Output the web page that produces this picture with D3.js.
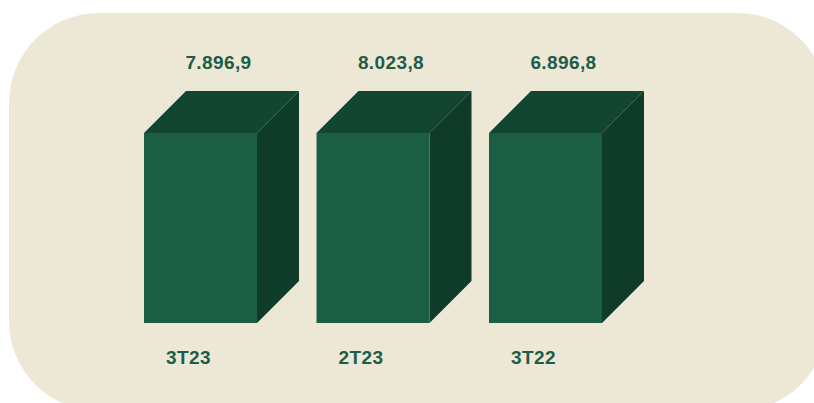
<!DOCTYPE html>
<html lang="pt">
<head>
  <meta charset="UTF-8">
  <title>3T23 x 2T23 x 3T22</title>
  <style>
    html, body { margin: 0; padding: 0; background: #fff; }
    .labels {
      font-family: "Liberation Sans", Arial, sans-serif;
      font-weight: bold;
      font-size: 19px;
      fill: #1d5c48;
      letter-spacing: 0.4px;
    }
  </style>
</head>
<body>
  <svg id="chart"></svg>
  <script src="https://d3js.org/d3.v7.min.js"></script>
  <script>
    const periods = ['3T23', '2T23', '3T22'];
    const values = [7896.9, 8023.8, 6896.8];
    const valueLabels = ['7.896,9', '8.023,8', '6.896,8'];

    const WIDTH = 814;
    const HEIGHT = 403;
    const DEPTH = 42; // 3d offset of the boxes

    const svg = d3.select('#chart')
      .attr('width', WIDTH)
      .attr('height', HEIGHT);

    // rounded beige panel, runs off the right/bottom edge
    svg.append('rect')
      .attr('x', 9).attr('y', 13)
      .attr('width', 818).attr('height', 398)
      .attr('rx', 90).attr('ry', 90)
      .attr('fill', '#ede7d6');

    const x = d3.scaleBand()
      .domain(periods)
      .range([144, 602])
      .paddingInner(0.345)
      .paddingOuter(0);

    // in the source every box is drawn at the same full height,
    // so the scale is clamped at the smallest value
    const y = d3.scaleLinear()
      .domain([0, d3.min(values)])
      .range([323, 133])
      .clamp(true);

    const data = periods.map((p, i) => ({ p, v: values[i], label: valueLabels[i] }));
    const bw = x.bandwidth();

    const bars = svg.selectAll('g.bar')
      .data(data)
      .enter()
      .append('g')
      .attr('class', 'bar');

    // top face
    bars.append('path')
      .attr('d', d => {
        const x0 = x(d.p), yt = y(d.v);
        return `M${x0},${yt} L${x0 + DEPTH},${yt - DEPTH} L${x0 + bw + DEPTH},${yt - DEPTH} L${x0 + bw},${yt} Z`;
      })
      .attr('fill', '#124532');

    // side face
    bars.append('path')
      .attr('d', d => {
        const x1 = x(d.p) + bw, yt = y(d.v), yb = y(0);
        return `M${x1},${yt} L${x1 + DEPTH},${yt - DEPTH} L${x1 + DEPTH},${yb - DEPTH} L${x1},${yb} Z`;
      })
      .attr('fill', '#0f3b2b');

    // front face
    bars.append('rect')
      .attr('x', d => x(d.p))
      .attr('y', d => y(d.v))
      .attr('width', bw)
      .attr('height', d => y(0) - y(d.v))
      .attr('fill', '#1b5d45');

    bars.append('text')
      .attr('class', 'labels')
      .attr('text-anchor', 'middle')
      .attr('x', d => x(d.p) + bw / 2 + 18)
      .attr('y', d => y(d.v) - DEPTH - 22)
      .text(d => d.label);

    bars.append('text')
      .attr('class', 'labels')
      .attr('text-anchor', 'middle')
      .attr('x', d => x(d.p) + bw / 2 - 12)
      .attr('y', y(0) + 41)
      .text(d => d.p);
  </script>
</body>
</html>
